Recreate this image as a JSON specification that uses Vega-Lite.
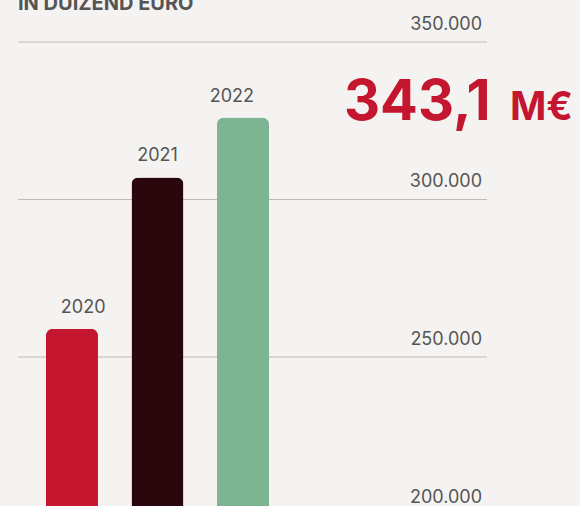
{
  "$schema": "https://vega.github.io/schema/vega-lite/v6.json",
  "width": 469,
  "height": 506,
  "padding": {"left": 18, "top": 0, "right": 93, "bottom": 0},
  "autosize": {"type": "none"},
  "background": "#f4f3f1",
  "config": {"view": {"stroke": null}, "font": "Inter"},
  "datasets": {
    "bars": [
      {"year": "2020", "value": 259000},
      {"year": "2021", "value": 307000},
      {"year": "2022", "value": 326000}
    ],
    "ticks": [
      {"v": 200000, "label": "200.000"},
      {"v": 250000, "label": "250.000"},
      {"v": 300000, "label": "300.000"},
      {"v": 350000, "label": "350.000"}
    ]
  },
  "resolve": {"scale": {"x": "independent"}},
  "layer": [
    {
      "data": {"name": "ticks"},
      "mark": {"type": "rule", "color": "#bdbbb8", "strokeWidth": 1},
      "encoding": {
        "y": {"field": "v", "type": "quantitative", "scale": {"domain": [202700, 363330], "nice": false, "zero": false}, "axis": null}
      }
    },
    {
      "data": {"name": "bars"},
      "mark": {"type": "bar", "cornerRadiusTopLeft": 7, "cornerRadiusTopRight": 7},
      "encoding": {
        "x": {"field": "year", "type": "nominal", "scale": {"range": [28, 251], "paddingInner": 0.392, "paddingOuter": 0}, "axis": null},
        "y": {"field": "value", "type": "quantitative", "scale": {"domain": [202700, 363330], "nice": false, "zero": false}, "axis": null},
        "color": {"field": "year", "type": "nominal", "scale": {"domain": ["2020", "2021", "2022"], "range": ["#c4172f", "#2a070c", "#7db592"]}, "legend": null}
      }
    },
    {
      "data": {"name": "bars"},
      "mark": {"type": "text", "fontSize": 18, "color": "#555555", "baseline": "alphabetic", "dy": -16},
      "encoding": {
        "x": {"field": "year", "type": "nominal", "scale": {"range": [28, 251], "paddingInner": 0.392, "paddingOuter": 0}, "axis": null},
        "y": {"field": "value", "type": "quantitative", "scale": {"domain": [202700, 363330], "nice": false, "zero": false}, "axis": null},
        "text": {"field": "year", "type": "nominal"}
      }
    },
    {
      "data": {"name": "ticks"},
      "mark": {"type": "text", "fontSize": 18, "color": "#555555", "align": "right", "baseline": "alphabetic", "dx": -5, "dy": -12},
      "encoding": {
        "x": {"datum": 1, "type": "quantitative", "scale": {"domain": [0, 1]}, "axis": null},
        "y": {"field": "v", "type": "quantitative", "scale": {"domain": [202700, 363330], "nice": false, "zero": false}, "axis": null},
        "text": {"field": "label", "type": "nominal"}
      }
    },
    {
      "data": {"values": [{}]},
      "mark": {"type": "text", "text": "IN DUIZEND EURO", "fontSize": 20, "fontWeight": "bold", "letterSpacing": 2, "color": "#555555", "align": "left", "baseline": "alphabetic"},
      "encoding": {
        "x": {"datum": 0, "type": "quantitative", "scale": {"domain": [0, 1]}, "axis": null},
        "y": {"datum": 360200, "type": "quantitative", "scale": {"domain": [202700, 363330], "nice": false, "zero": false}, "axis": null}
      }
    },
    {
      "data": {"values": [{}]},
      "mark": {"type": "text", "text": "343,1", "fontSize": 56, "fontWeight": "bold", "letterSpacing": -6, "color": "#c4172f", "align": "left", "baseline": "alphabetic"},
      "encoding": {
        "x": {"datum": 0.695, "type": "quantitative", "scale": {"domain": [0, 1]}, "axis": null},
        "y": {"datum": 325240, "type": "quantitative", "scale": {"domain": [202700, 363330], "nice": false, "zero": false}, "axis": null}
      }
    },
    {
      "data": {"values": [{}]},
      "mark": {"type": "text", "text": "M€", "fontSize": 39, "fontWeight": "bold", "color": "#c4172f", "align": "left", "baseline": "alphabetic"},
      "encoding": {
        "x": {"datum": 1.049, "type": "quantitative", "scale": {"domain": [0, 1]}, "axis": null},
        "y": {"datum": 325240, "type": "quantitative", "scale": {"domain": [202700, 363330], "nice": false, "zero": false}, "axis": null}
      }
    }
  ]
}
